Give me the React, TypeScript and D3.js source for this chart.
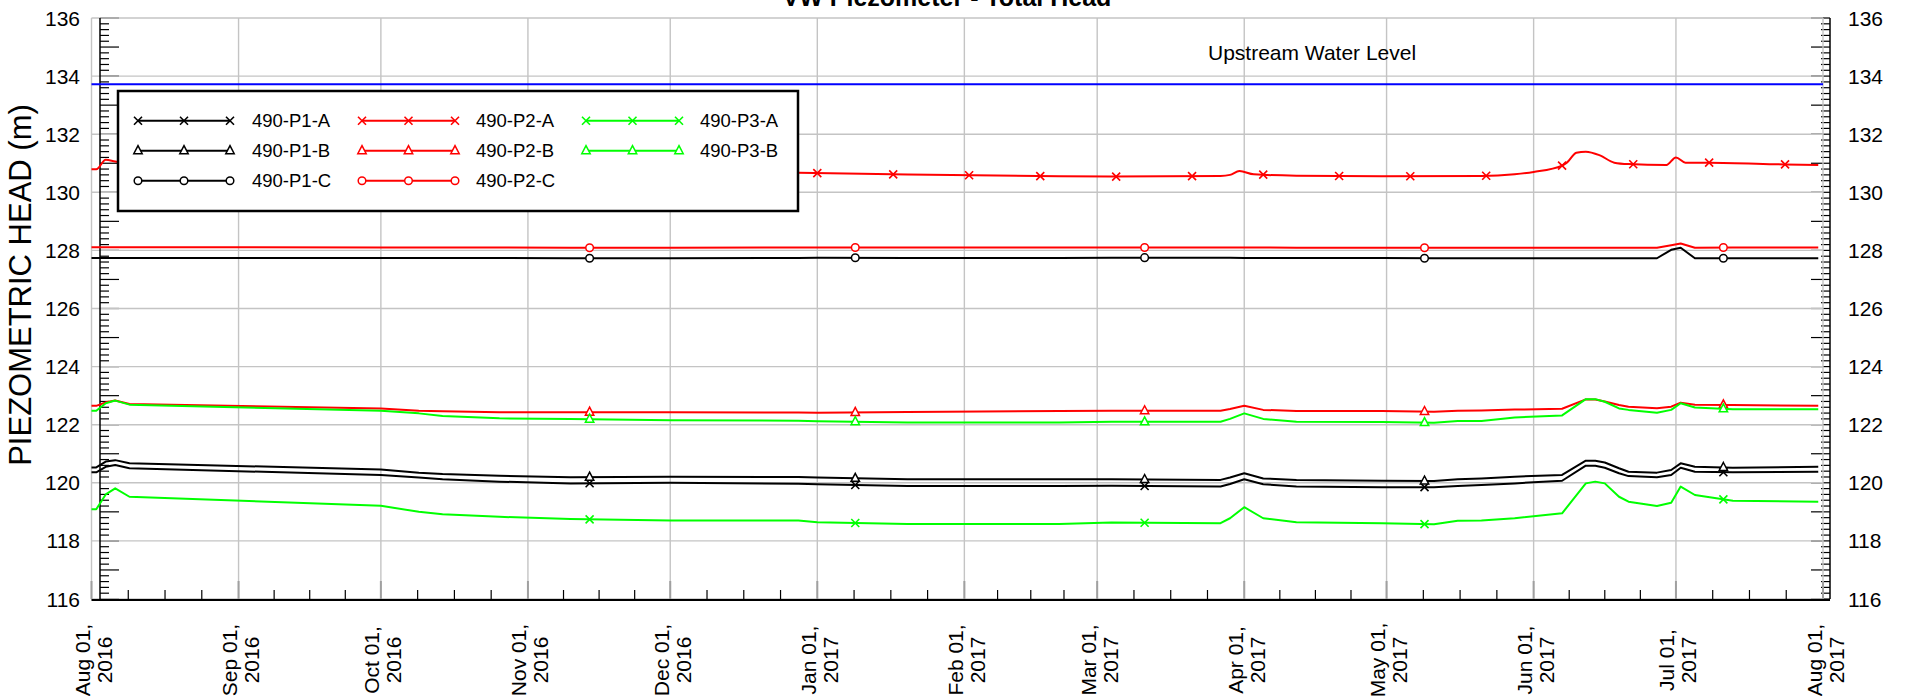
import React from "react";
import * as d3 from "d3";

const W = 1906;
const H = 696;

// Common reading dates for most piezometers
const readingDates = [
  "2016-08-01", "2016-08-02", "2016-08-04", "2016-08-06", "2016-08-09",
  "2016-10-01", "2016-10-09", "2016-10-14", "2016-10-26", "2016-11-10",
  "2016-12-01", "2016-12-28", "2017-01-01", "2017-01-20", "2017-02-21",
  "2017-03-04", "2017-03-27", "2017-03-29", "2017-04-01", "2017-04-05",
  "2017-04-12", "2017-04-30", "2017-05-11", "2017-05-16", "2017-05-21",
  "2017-05-28", "2017-06-07", "2017-06-12", "2017-06-14", "2017-06-16",
  "2017-06-19", "2017-06-21", "2017-06-27", "2017-06-30", "2017-07-02",
  "2017-07-05", "2017-07-13", "2017-07-31",
];

const p1A = [
  120.36, 120.36, 120.55, 120.61, 120.50, 120.27, 120.18, 120.12, 120.04, 119.98,
  120.00, 119.97, 119.95, 119.89, 119.89, 119.90, 119.87, 119.96, 120.12, 119.95,
  119.87, 119.85, 119.85, 119.89, 119.92, 119.98, 120.07, 120.59, 120.59, 120.52,
  120.33, 120.23, 120.19, 120.27, 120.52, 120.38, 120.36, 120.38,
];
const p1B = [
  120.53, 120.53, 120.73, 120.78, 120.67, 120.46, 120.35, 120.30, 120.24, 120.19,
  120.21, 120.20, 120.18, 120.12, 120.12, 120.12, 120.10, 120.18, 120.33, 120.15,
  120.10, 120.07, 120.06, 120.12, 120.15, 120.21, 120.27, 120.76, 120.76, 120.70,
  120.50, 120.38, 120.35, 120.44, 120.67, 120.55, 120.52, 120.55,
];
const p1C = [
  127.74, 127.74, 127.74, 127.74, 127.74, 127.74, 127.74, 127.74, 127.74, 127.73,
  127.73, 127.74, 127.75, 127.74, 127.74, 127.75, 127.75, 127.75, 127.74, 127.74,
  127.74, 127.74, 127.73, 127.73, 127.73, 127.73, 127.73, 127.73, 127.73, 127.73,
  127.73, 127.73, 127.73, 128.02, 128.09, 127.73, 127.73, 127.73,
];
const p2B = [
  122.65, 122.65, 122.77, 122.83, 122.71, 122.56, 122.48, 122.46, 122.43, 122.43,
  122.43, 122.42, 122.41, 122.44, 122.47, 122.48, 122.48, 122.54, 122.65, 122.51,
  122.47, 122.47, 122.45, 122.48, 122.49, 122.52, 122.55, 122.87, 122.87, 122.80,
  122.68, 122.62, 122.57, 122.62, 122.76, 122.69, 122.68, 122.65,
];
const p2C = [
  128.11, 128.11, 128.11, 128.11, 128.11, 128.10, 128.10, 128.10, 128.10, 128.09,
  128.09, 128.10, 128.10, 128.10, 128.10, 128.10, 128.10, 128.10, 128.10, 128.10,
  128.09, 128.09, 128.09, 128.09, 128.09, 128.09, 128.09, 128.09, 128.09, 128.09,
  128.09, 128.09, 128.09, 128.18, 128.24, 128.09, 128.10, 128.10,
];
const p3A = [
  119.09, 119.09, 119.60, 119.81, 119.52, 119.21, 119.00, 118.92, 118.83, 118.75,
  118.70, 118.70, 118.64, 118.58, 118.58, 118.63, 118.61, 118.78, 119.16, 118.78,
  118.64, 118.61, 118.57, 118.69, 118.70, 118.78, 118.95, 119.98, 120.04, 119.98,
  119.52, 119.35, 119.20, 119.31, 119.87, 119.58, 119.38, 119.35,
];
const p3B = [
  122.48, 122.48, 122.74, 122.83, 122.69, 122.48, 122.39, 122.30, 122.22, 122.20,
  122.15, 122.14, 122.12, 122.08, 122.08, 122.10, 122.10, 122.20, 122.39, 122.20,
  122.10, 122.09, 122.07, 122.13, 122.13, 122.25, 122.32, 122.88, 122.88, 122.79,
  122.56, 122.51, 122.41, 122.51, 122.74, 122.59, 122.53, 122.53,
];

// 490-P2-A has its own reading dates
const p2ADates = [
  "2016-08-01", "2016-08-02", "2016-08-04", "2016-08-06", "2016-08-09",
  "2016-10-01", "2016-11-10", "2016-12-28", "2017-01-20", "2017-02-21",
  "2017-03-04", "2017-03-27", "2017-03-29", "2017-03-31", "2017-04-03",
  "2017-04-12", "2017-04-30", "2017-05-21", "2017-05-28", "2017-06-01",
  "2017-06-07", "2017-06-08", "2017-06-10", "2017-06-12", "2017-06-15",
  "2017-06-18", "2017-06-21", "2017-06-29", "2017-07-01", "2017-07-03",
  "2017-07-08", "2017-07-24", "2017-07-31",
];
const p2A = [
  130.79, 130.79, 131.12, 131.06, 131.00, 130.85, 130.75, 130.67, 130.61, 130.55,
  130.54, 130.56, 130.60, 130.73, 130.62, 130.57, 130.55, 130.56, 130.62, 130.70,
  130.92, 131.02, 131.36, 131.40, 131.27, 131.02, 130.97, 130.94, 131.20, 131.02,
  131.02, 130.96, 130.94,
];

const upstreamDates = ["2016-08-01", "2017-08-01"];
const upstreamLevel = [133.72, 133.72];

const sparseMarkerDates = ["2016-11-14", "2017-01-09", "2017-03-11", "2017-05-09", "2017-07-11"];
const p2AMarkerDates = [
  "2016-08-14", "2016-08-29", "2016-09-14", "2016-09-30", "2016-10-15", "2016-10-31",
  "2016-11-15", "2016-12-01", "2016-12-17", "2017-01-01", "2017-01-17", "2017-02-02",
  "2017-02-17", "2017-03-05", "2017-03-21", "2017-04-05", "2017-04-21", "2017-05-06",
  "2017-05-22", "2017-06-07", "2017-06-22", "2017-07-08", "2017-07-24",
];

const yGridValues = [116, 118, 120, 122, 124, 126, 128, 130, 132, 134, 136];
const monthNames = ["Jan", "Feb", "Mar", "Apr", "May", "Jun", "Jul", "Aug", "Sep", "Oct", "Nov", "Dec"];

const parse = d3.timeParse("%Y-%m-%d");
const toDates = (arr: string[]) => arr.map((s) => parse(s) as Date);

type Marker = "x" | "tri" | "circle";
interface Series {
  name: string;
  color: string;
  dates: Date[];
  values: number[];
  marker: Marker;
  markerDates: Date[];
  smooth?: boolean;
}

const series: Series[] = [
  { name: "490-P1-A", color: "#000000", dates: toDates(readingDates), values: p1A, marker: "x", markerDates: toDates(sparseMarkerDates) },
  { name: "490-P1-B", color: "#000000", dates: toDates(readingDates), values: p1B, marker: "tri", markerDates: toDates(sparseMarkerDates) },
  { name: "490-P1-C", color: "#000000", dates: toDates(readingDates), values: p1C, marker: "circle", markerDates: toDates(sparseMarkerDates) },
  { name: "490-P2-A", color: "#ff0000", dates: toDates(p2ADates), values: p2A, marker: "x", markerDates: toDates(p2AMarkerDates), smooth: true },
  { name: "490-P2-B", color: "#ff0000", dates: toDates(readingDates), values: p2B, marker: "tri", markerDates: toDates(sparseMarkerDates) },
  { name: "490-P2-C", color: "#ff0000", dates: toDates(readingDates), values: p2C, marker: "circle", markerDates: toDates(sparseMarkerDates) },
  { name: "490-P3-A", color: "#00ff00", dates: toDates(readingDates), values: p3A, marker: "x", markerDates: toDates(sparseMarkerDates) },
  { name: "490-P3-B", color: "#00ff00", dates: toDates(readingDates), values: p3B, marker: "tri", markerDates: toDates(sparseMarkerDates) },
];

const FONT = "'Liberation Sans', Arial, Helvetica, sans-serif";

const PL = 91.5, PR = 1823, PT = 18, PB = 599;
const x = d3.scaleTime().domain([new Date(2016, 7, 1), new Date(2017, 7, 1)]).range([PL, PR]);
const y = d3.scaleLinear().domain([116, 136]).range([PB, PT]);

function valueAt(dates: Date[], values: number[], t: Date) {
  const i = d3.bisector((d: Date) => d.getTime()).left(dates, t.getTime());
  if (i <= 0) return values[0];
  if (i >= dates.length) return values[values.length - 1];
  const t0 = dates[i - 1].getTime(), t1 = dates[i].getTime();
  const f = (t.getTime() - t0) / (t1 - t0);
  return values[i - 1] + f * (values[i] - values[i - 1]);
}

function MarkerShape({ type, cx, cy, color }: { type: Marker; cx: number; cy: number; color: string }) {
  if (type === "x") {
    return (
      <path d={`M${cx - 4},${cy - 4}L${cx + 4},${cy + 4}M${cx - 4},${cy + 4}L${cx + 4},${cy - 4}`} stroke={color} strokeWidth={1.6} fill="none" />
    );
  }
  if (type === "tri") {
    return <path d={`M${cx},${cy - 5}L${cx + 4.2},${cy + 3}L${cx - 4.2},${cy + 3}Z`} stroke={color} strokeWidth={1.5} fill="#fff" />;
  }
  return <circle cx={cx} cy={cy} r={3.8} stroke={color} strokeWidth={1.5} fill="#fff" />;
}

export default function App() {
  const months = d3.timeMonth.range(new Date(2016, 7, 1), new Date(2017, 7, 2));
  const quarterTicks: number[] = [];
  for (let i = 0; i < months.length - 1; i++) {
    const a = x(months[i]), b = x(months[i + 1]);
    for (let k = 1; k < 4; k++) quarterTicks.push(a + ((b - a) * k) / 4);
  }
  const yMinor = d3.range(0, 101).map((i) => ({ v: 116 + i * 0.2, major: i % 5 === 0 }));

  const linePlain = d3.line<[Date, number]>().x((d) => x(d[0])).y((d) => y(d[1]));
  const lineSmooth = d3.line<[Date, number]>().x((d) => x(d[0])).y((d) => y(d[1])).curve(d3.curveMonotoneX);

  const upDates = toDates(upstreamDates);

  const legendCols = [
    { lineX: [138, 230], textX: 252 },
    { lineX: [362, 455], textX: 476 },
    { lineX: [586, 679], textX: 700 },
  ];
  const legendRows = [120.7, 150.7, 180.7];
  const legendOrder = [
    [0, 0, 0], [0, 1, 1], [0, 2, 2],
    [1, 0, 3], [1, 1, 4], [1, 2, 5],
    [2, 0, 6], [2, 1, 7],
  ];

  return (
    <svg width={W} height={H} style={{ display: "block", position: "absolute", left: 0, top: 0 }} fontFamily={FONT}>
      <rect x={0} y={0} width={W} height={H} fill="#fff" />
      {/* title */}
      <text x={947} y={6} textAnchor="middle" fontSize={25} fontWeight="bold" fill="#000">VW Piezometer - Total Head</text>

      {/* left / right axis ticks */}
      {yMinor.map((t, i) => (
        <g key={"yt" + i}>
          <line x1={100} x2={100 + (t.major ? 19 : 9)} y1={y(t.v)} y2={y(t.v)} stroke="#000" strokeWidth={1.2} />
          <line x1={1830} x2={1830 - (t.major ? 19 : 9)} y1={y(t.v)} y2={y(t.v)} stroke="#000" strokeWidth={1.2} />
        </g>
      ))}

      {/* grid */}
      {yGridValues.map((v) => (
        <line key={"hg" + v} x1={PL} x2={PR} y1={y(v)} y2={y(v)} stroke="#c4c4c4" strokeWidth={1.4} />
      ))}
      {months.map((m, i) => (
        <line key={"vg" + i} x1={x(m)} x2={x(m)} y1={PT} y2={PB} stroke="#c4c4c4" strokeWidth={1.4} />
      ))}

      {/* axes lines */}
      <line x1={100} x2={100} y1={PT} y2={PB} stroke="#000" strokeWidth={1.5} />
      <line x1={1830} x2={1830} y1={PT} y2={PB} stroke="#000" strokeWidth={1.5} />
      {quarterTicks.map((q, i) => (
        <line key={"qt" + i} x1={q} x2={q} y1={590} y2={PB} stroke="#000" strokeWidth={1.2} />
      ))}
      {months.map((m, i) => (
        <line key={"mt" + i} x1={x(m)} x2={x(m)} y1={581} y2={PB} stroke="#a0a0a0" strokeWidth={2} />
      ))}
      <line x1={PL} x2={1830} y1={PB + 1} y2={PB + 1} stroke="#000" strokeWidth={2} />

      {/* y tick labels */}
      {yGridValues.map((v) => (
        <g key={"yl" + v}>
          <text x={80} y={y(v) + 7.5} textAnchor="end" fontSize={21} fill="#000">{v}</text>
          <text x={1848} y={y(v) + 7.5} textAnchor="start" fontSize={21} fill="#000">{v}</text>
        </g>
      ))}

      {/* x tick labels */}
      {months.map((m, i) => (
        <g key={"xl" + i} transform={`translate(${x(m)},660) rotate(-90)`}>
          <text x={0} y={-1.5} textAnchor="middle" fontSize={21} fill="#000">{`${monthNames[m.getMonth()]} 01,`}</text>
          <text x={0} y={20.5} textAnchor="middle" fontSize={21} fill="#000">{m.getFullYear()}</text>
        </g>
      ))}

      {/* y axis title */}
      <text transform="translate(31,285) rotate(-90)" textAnchor="middle" fontSize={31} fill="#000">PIEZOMETRIC HEAD (m)</text>

      {/* upstream water level */}
      <path d={linePlain(upDates.map((d, i) => [d, upstreamLevel[i]]) as [Date, number][]) || ""} stroke="#0000ff" strokeWidth={2} fill="none" />
      <text x={1208} y={60} fontSize={21} fill="#000">Upstream Water Level</text>

      {/* data series */}
      {series.map((s) => {
        const pts = s.dates.map((d, i) => [d, s.values[i]] as [Date, number]);
        const gen = s.smooth ? lineSmooth : linePlain;
        return (
          <g key={s.name}>
            <path d={gen(pts) || ""} stroke={s.color} strokeWidth={2} fill="none" strokeLinejoin="round" />
            {s.markerDates.map((md, j) => (
              <MarkerShape key={j} type={s.marker} cx={x(md)} cy={y(valueAt(s.dates, s.values, md))} color={s.color} />
            ))}
          </g>
        );
      })}

      {/* legend */}
      <rect x={118} y={91} width={680} height={120} fill="#fff" stroke="#000" strokeWidth={2.5} />
      {legendOrder.map(([c, r, si]) => {
        const s = series[si];
        const col = legendCols[c];
        const ry = legendRows[r];
        const mid = (col.lineX[0] + col.lineX[1]) / 2;
        return (
          <g key={"lg" + si}>
            <line x1={col.lineX[0]} x2={col.lineX[1]} y1={ry} y2={ry} stroke={s.color} strokeWidth={2} />
            {[col.lineX[0], mid, col.lineX[1]].map((mx, k) => (
              <MarkerShape key={k} type={s.marker} cx={mx} cy={ry} color={s.color} />
            ))}
            <text x={col.textX} y={ry + 6.7} fontSize={18.5} fill="#000">{s.name}</text>
          </g>
        );
      })}
    </svg>
  );
}
